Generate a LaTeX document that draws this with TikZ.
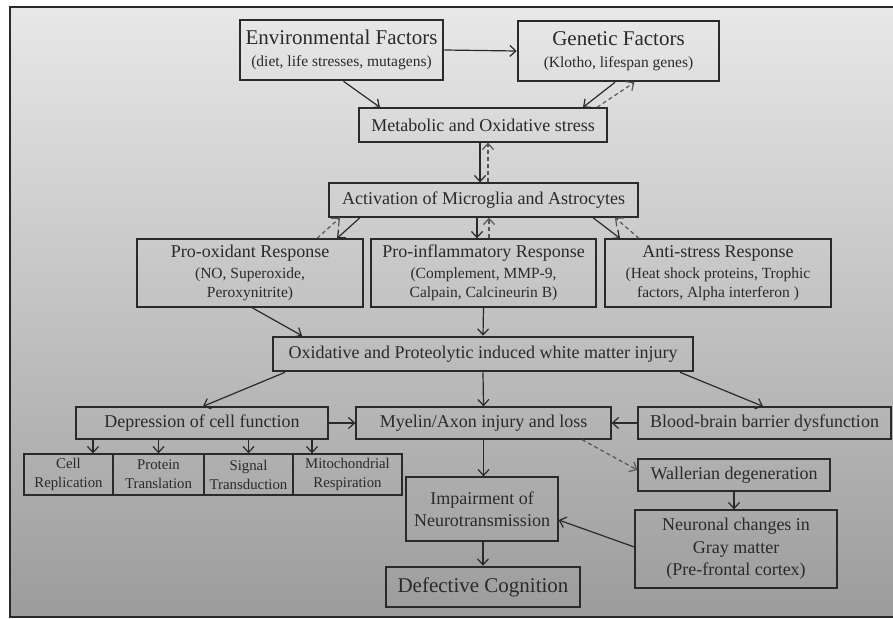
\documentclass[tikz,border=0pt]{standalone}
\usepackage{fontspec}
\setmainfont{Liberation Serif}
\usetikzlibrary{arrows.meta}

\definecolor{inkgray}{HTML}{2A2A2A}
\definecolor{bgtop}{HTML}{E8E8E8}
\definecolor{bgbottom}{HTML}{9C9C9C}

\newcommand{\headsize}{\fontsize{21}{24}\selectfont}
\newcommand{\midsize}{\fontsize{18}{22.5}\selectfont}
\newcommand{\subsize}{\fontsize{15.5}{19}\selectfont}
\newcommand{\cellsize}{\fontsize{14.8}{19}\selectfont}

\tikzset{
    box/.style={draw=inkgray, line width=1.3pt, text=inkgray, align=center, inner sep=0pt},
    tbox/.style={box, line width=2.6pt},
    arr/.style={draw=inkgray, line width=1.2pt, -{Straight Barb[length=6pt,width=11pt]}},
    darr/.style={arr, draw=inkgray!80, dash pattern=on 4pt off 3pt}
}

\begin{document}
\begin{tikzpicture}[x=1pt,y=-1pt]
            \useasboundingbox (0,0) rectangle (893,618);
            \fill[white] (0,0) rectangle (893,618);
            \shade[top color=bgtop, bottom color=bgbottom] (10,7) rectangle (893,617);
            \draw[inkgray, line width=2pt] (893,7) -- (10,7) -- (10,617) -- (893,617);

            % causes
            \node[tbox, minimum width=203, minimum height=60, font=\subsize] (env) at (341.5,50)
                {{\headsize Environmental Factors}\\[3pt](diet, life stresses, mutagens)};
            \node[tbox, minimum width=201, minimum height=60, font=\subsize] (gen) at (618.5,51)
                {{\headsize Genetic Factors}\\[3pt](Klotho, lifespan genes)};
            \node[box, minimum width=248, minimum height=34, font=\midsize] (meta) at (483,125)
                {Metabolic and Oxidative stress};
            \node[box, minimum width=309, minimum height=34, font=\midsize] (activ) at (483.5,200)
                {Activation of Microglia and Astrocytes};

            % responses
            \node[box, minimum width=226, minimum height=68, font=\subsize] (prox) at (250,273)
                {{\midsize Pro-oxidant Response}\\[2pt](NO, Superoxide,\\Peroxynitrite)};
            \node[box, minimum width=225, minimum height=68, font=\subsize] (pinf) at (483.5,273)
                {{\midsize Pro-inflammatory Response}\\[2pt](Complement, MMP-9,\\Calpain, Calcineurin B)};
            \node[box, minimum width=226, minimum height=68, font=\subsize] (anti) at (718,273)
                {{\midsize Anti-stress Response}\\[2pt](Heat shock proteins, Trophic\\factors, Alpha interferon )};
            \node[tbox, minimum width=420, minimum height=34, font=\midsize] (oxid) at (483,354)
                {Oxidative and Proteolytic induced white matter injury};

            % injury
            \node[box, minimum width=252, minimum height=32, font=\midsize] (depr) at (202,423)
                {Depression of cell function};
            \node[box, minimum width=255, minimum height=32, font=\midsize] (myel) at (483.5,423)
                {Myelin/Axon injury and loss};
            \node[box, minimum width=253, minimum height=32, font=\midsize] (bbb) at (764.5,423)
                {Blood-brain barrier dysfunction};
            \node[box, minimum width=89, minimum height=41, font=\cellsize] (cell) at (68.5,474.5)
                {Cell\\Replication};
            \node[box, minimum width=91, minimum height=41, font=\cellsize] (prot) at (158.5,474.5)
                {Protein\\Translation};
            \node[box, minimum width=89, minimum height=41, font=\cellsize] (sig) at (248.5,474.5)
                {Signal\\Transduction};
            \node[box, minimum width=109, minimum height=41, font=\cellsize] (mito) at (347.5,474.5)
                {Mitochondrial\\Respiration};

            % outcome
            \node[box, minimum width=152, minimum height=64, font=\midsize] (impa) at (482,509)
                {Impairment of\\Neurotransmission};
            \node[tbox, minimum width=194, minimum height=40, font=\headsize] (defe) at (483,587)
                {Defective Cognition};
            \node[box, minimum width=192, minimum height=32, font=\midsize] (wall) at (734,475)
                {Wallerian degeneration};
            \node[box, minimum width=202, minimum height=78, font=\midsize] (neur) at (736,549)
                {Neuronal changes in\\Gray matter\\(Pre-frontal cortex)};

            % arrows
            \draw[arr] (env.east) -- (gen.west);
            \draw[arr] ([xshift=2]env.south) -- ([xshift=-103]meta.north);
            \draw[arr] ([xshift=-3.5]gen.south) -- ([xshift=100]meta.north);
            \draw[darr] ([xshift=114]meta.north) -- ([xshift=16]gen.south);
            \draw[arr] ([xshift=-3]meta.south) -- ([xshift=-3.5]activ.north);
            \draw[darr] ([xshift=4.5]activ.north) -- ([xshift=5]meta.south);
            \draw[arr] ([xshift=-123.5]activ.south) -- ([xshift=87]prox.north);
            \draw[darr] ([xshift=67]prox.north) -- ([xshift=-143.5]activ.south);
            \draw[arr] ([xshift=-6.5]activ.south) -- ([xshift=-6.5]pinf.north);
            \draw[darr] ([xshift=5.5]pinf.north) -- ([xshift=5.5]activ.south);
            \draw[arr] ([xshift=109.5]activ.south) -- ([xshift=-98]anti.north);
            \draw[darr] ([xshift=-79]anti.north) -- ([xshift=131.5]activ.south);
            \draw[arr] ([xshift=2]prox.south) -- ([xshift=-181]oxid.north);
            \draw[arr] (pinf.south) -- (oxid.north);
            \draw[arr] ([xshift=-198]oxid.south) -- ([xshift=1]depr.north);
            \draw[arr] (oxid.south) -- (myel.north);
            \draw[arr] ([xshift=197]oxid.south) -- ([xshift=-1.5]bbb.north);
            \draw[arr] (bbb.west) -- (myel.east);
            \draw[arr] (depr.east) -- (myel.west);
            \draw[arr] ([xshift=24.5]cell.north |- depr.south) -- ([xshift=24.5]cell.north);
            \draw[arr] (prot.north |- depr.south) -- (prot.north);
            \draw[arr] (sig.north |- depr.south) -- (sig.north);
            \draw[arr] ([xshift=-35.5]mito.north |- depr.south) -- ([xshift=-35.5]mito.north);
            \draw[arr] (myel.south) -- (myel.south |- impa.north);
            \draw[darr] ([xshift=98.5]myel.south) -- ([yshift=5]wall.west);
            \draw[arr] (wall.south) -- (wall.south |- neur.north);
            \draw[arr] ([yshift=2]neur.west) -- ([yshift=-11]impa.east);
            \draw[arr] (impa.south -| defe.north) -- (defe.north);
\end{tikzpicture}
\end{document}
